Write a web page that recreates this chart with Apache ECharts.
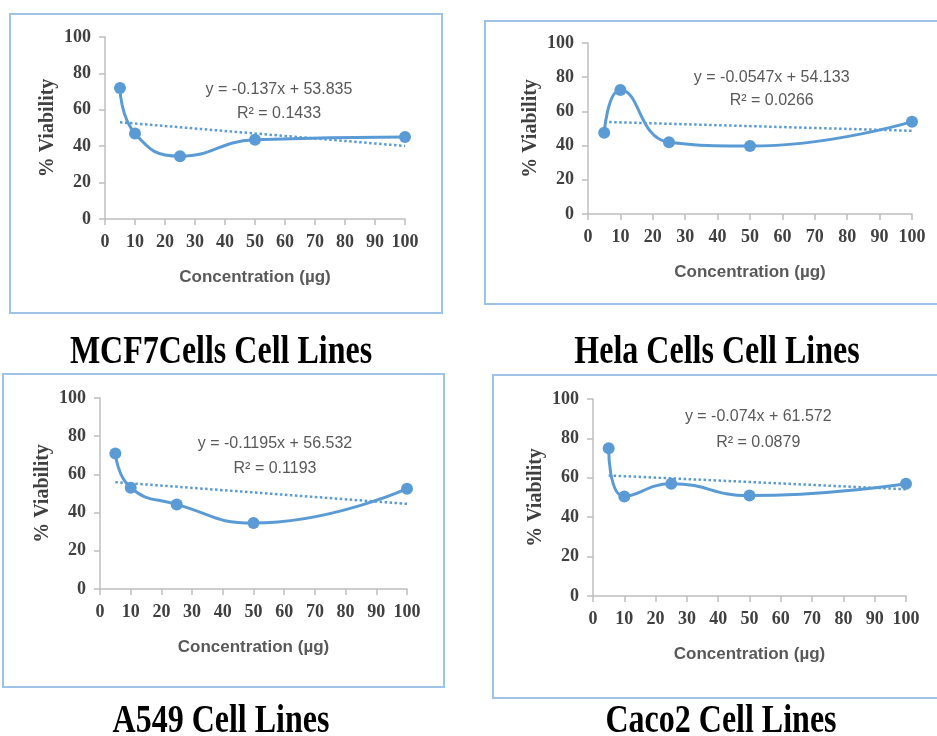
<!DOCTYPE html>
<html><head><meta charset="utf-8">
<script src="https://cdn.jsdelivr.net/npm/echarts@6/dist/echarts.min.js"></script>
<style>html,body{margin:0;padding:0;background:#fff}#c{width:937px;height:736px}</style>
</head><body><div id="c"></div>
<script>
// ---- data ----
const concentrations = [5, 10, 25, 50, 100];
const mcf7Viability  = [72, 47, 34.5, 43.5, 45];
const helaViability  = [47.5, 72.5, 42, 39.7, 54];
const a549Viability  = [71, 53, 44.3, 34.5, 52.5];
const caco2Viability = [75, 50.5, 57, 51, 57];
const trendSlopes     = [-0.137, -0.0547, -0.1195, -0.074];
const trendIntercepts = [53.835, 54.133, 56.532, 61.572];
const trendEquations  = ['y = -0.137x + 53.835', 'y = -0.0547x + 54.133', 'y = -0.1195x + 56.532', 'y = -0.074x + 61.572'];
const rSquaredLabels  = ['R² = 0.1433', 'R² = 0.0266', 'R² = 0.1193', 'R² = 0.0879'];
const panelTitles     = ['MCF7Cells Cell Lines', 'Hela Cells Cell Lines', 'A549 Cell Lines', 'Caco2 Cell Lines'];
const xAxisTitle = 'Concentration (µg)';
const yAxisTitle = '% Viability';
const trendRange = [5, 100];

// ---- layout ----
const viabilities = [mcf7Viability, helaViability, a549Viability, caco2Viability];
const grids = [
  {left: 105, top: 37,  width: 300, height: 182},
  {left: 588, top: 43,  width: 324, height: 171},
  {left: 100, top: 398, width: 307, height: 191},
  {left: 593, top: 399, width: 313, height: 197}
];
const eqPos = [[58, 64.3], [56.7, 72.9], [57, 69.4], [52.8, 84.5]];
const eqLineHeights = [24, 23, 25, 26];
const frames = [
  {x: 10, y: 14, width: 432, height: 299},
  {x: 485, y: 21, width: 470, height: 283},
  {x: 3, y: 374, width: 441, height: 313},
  {x: 493, y: 375, width: 470, height: 323}
];
const titlePos = [[221, 333], [717, 333], [221, 702], [721, 702]];

const BLUE = '#5B9BD5';
const AXIS = '#BFBFBF';
const xAxes = [], yAxes = [], series = [], graphic = [];
for (let i = 0; i < 4; i++) {
  xAxes.push({
    type: 'value', gridIndex: i, min: 0, max: 100, interval: 10,
    name: xAxisTitle, nameLocation: 'middle', nameGap: 50,
    nameTextStyle: {fontFamily: 'Liberation Sans', fontWeight: 'bold', fontSize: 17, color: '#595959'},
    axisLine: {show: true, lineStyle: {color: AXIS, width: 1.5}},
    axisTick: {show: true, length: 6, lineStyle: {color: AXIS, width: 1.5}},
    axisLabel: {margin: 14, fontFamily: 'Liberation Serif', fontWeight: 'bold', fontSize: 18, color: '#404040'},
    splitLine: {show: false}
  });
  yAxes.push({
    type: 'value', gridIndex: i, min: 0, max: 100, interval: 20,
    name: yAxisTitle, nameLocation: 'middle', nameGap: 47,
    nameTextStyle: {fontFamily: 'Liberation Serif', fontWeight: 'bold', fontSize: 20, color: '#404040'},
    axisLine: {show: true, lineStyle: {color: AXIS, width: 1.5}},
    axisTick: {show: true, length: 6, lineStyle: {color: AXIS, width: 1.5}},
    axisLabel: {margin: 14, fontFamily: 'Liberation Serif', fontWeight: 'bold', fontSize: 18, color: '#404040'},
    splitLine: {show: false}
  });
  const vals = viabilities[i];
  series.push({
    type: 'line', xAxisIndex: i, yAxisIndex: i, smooth: 0.5,
    data: concentrations.map((c, k) => [c, vals[k]]),
    symbol: 'circle', symbolSize: 12, showSymbol: true,
    itemStyle: {color: BLUE}, lineStyle: {color: BLUE, width: 3}, z: 3
  });
  series.push({
    type: 'line', xAxisIndex: i, yAxisIndex: i, symbol: 'none',
    data: trendRange.map(x => [x, trendSlopes[i] * x + trendIntercepts[i]]),
    lineStyle: {color: BLUE, width: 2.5, type: [2.5, 2.5]}, z: 2,
    markPoint: {
      silent: true, symbol: 'circle', symbolSize: 1, itemStyle: {color: 'rgba(0,0,0,0)'},
      label: {show: true, position: 'inside', formatter: trendEquations[i] + '\n' + rSquaredLabels[i],
        fontFamily: 'Liberation Sans', fontSize: 16, color: '#595959', lineHeight: eqLineHeights[i], align: 'center'},
      data: [{coord: eqPos[i]}]
    }
  });
  graphic.push({type: 'rect', shape: frames[i], style: {fill: 'none', stroke: '#9DC3E6', lineWidth: 2}, silent: true});
  graphic.push({type: 'text', x: titlePos[i][0], y: titlePos[i][1], scaleX: 0.8,
    style: {text: panelTitles[i], font: 'bold 40px "Liberation Serif"', fill: '#000', align: 'center', verticalAlign: 'top'}});
}

const chart = echarts.init(document.getElementById('c'), null, {renderer: 'canvas'});
chart.setOption({
  animation: false, backgroundColor: '#fff',
  grid: grids, xAxis: xAxes, yAxis: yAxes, series: series, graphic: graphic
});
</script></body></html>
